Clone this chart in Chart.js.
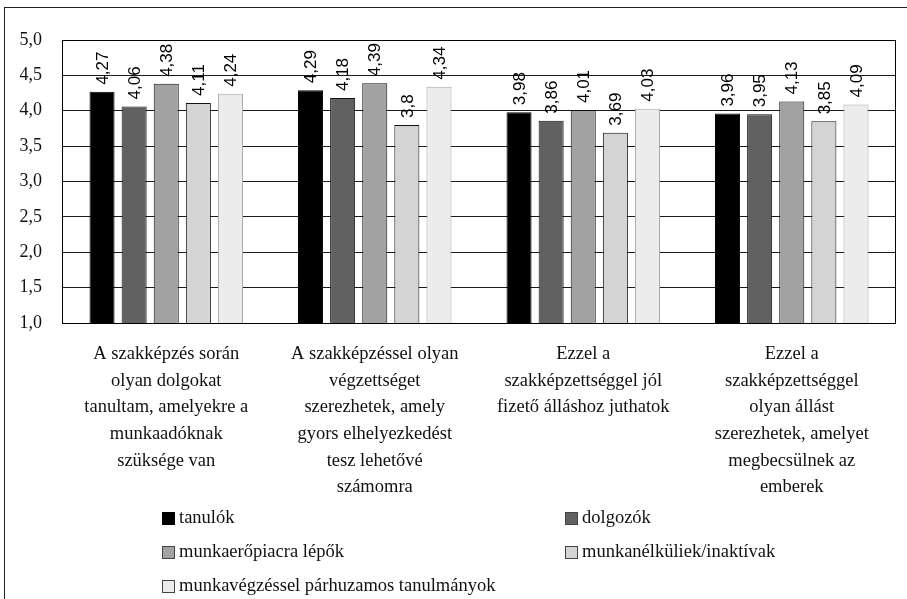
<!DOCTYPE html>
<html>
<head>
<meta charset="utf-8">
<script src="https://cdn.jsdelivr.net/npm/chart.js@4.4.1/dist/chart.umd.min.js"></script>
<style>
  html, body { margin: 0; padding: 0; background: #fff; overflow: hidden; }
  #keret { position: absolute; left: 0; top: 0; width: 907px; height: 599px; }
  #szegely { position: absolute; left: 4px; top: 7px; width: 920px; height: 620px;
    border-left: 1px solid #222; border-top: 1px solid #222; pointer-events: none; }
</style>
</head>
<body>
<div id="keret"><canvas id="grafikon"></canvas></div>
<div id="szegely"></div>
<script>
// kategóriák (többsoros feliratok)
const kategoriak = [
  ["A szakképzés során", "olyan dolgokat", "tanultam, amelyekre a", "munkaadóknak", "szüksége van"],
  ["A szakképzéssel olyan", "végzettséget", "szerezhetek, amely", "gyors elhelyezkedést", "tesz lehetővé", "számomra"],
  ["Ezzel a", "szakképzettséggel jól", "fizető álláshoz juthatok"],
  ["Ezzel a", "szakképzettséggel", "olyan állást", "szerezhetek, amelyet", "megbecsülnek az", "emberek"]
];

const csoportok = ["tanulók", "dolgozók", "munkaerőpiacra lépők", "munkanélküliek/inaktívak", "munkavégzéssel párhuzamos tanulmányok"];

const tanulok = [4.27, 4.29, 3.98, 3.96];
const dolgozok = [4.06, 4.18, 3.86, 3.95];
const munkaeropiacraLepok = [4.38, 4.39, 4.01, 4.13];
const munkanelkuliek = [4.11, 3.8, 3.69, 3.85];
const parhuzamosTanulmanyok = [4.24, 4.34, 4.03, 4.09];

const yMin = 1.0;
const yMax = 5.0;
const yLepes = 0.5;

const szinek = ["#000000", "#616161", "#a2a2a2", "#d4d4d4", "#ececec"];
const keretSzinek = ["#000000", "#111111", "#111111", "#111111", "#a8a8a8"];

const sorozatok = [tanulok, dolgozok, munkaeropiacraLepok, munkanelkuliek, parhuzamosTanulmanyok];

const serifBetu = "'Liberation Serif', 'Times New Roman', serif";
const vesszos = v => String(v).replace(".", ",");

// rotált értékfeliratok az oszlopok fölött
const ertekFeliratok = {
  id: "ertekFeliratok",
  afterDatasetsDraw(chart) {
    const ctx = chart.ctx;
    ctx.save();
    ctx.font = "17px 'Liberation Sans', Arial, sans-serif";
    ctx.fillStyle = "#000";
    ctx.textAlign = "left";
    ctx.textBaseline = "middle";
    chart.data.datasets.forEach((ds, i) => {
      const meta = chart.getDatasetMeta(i);
      meta.data.forEach((elem, j) => {
        ctx.save();
        ctx.translate(elem.x + 1, elem.y - 7);
        ctx.rotate(-Math.PI / 2);
        ctx.fillText(vesszos(ds.data[j]), 0, 0);
        ctx.restore();
      });
    });
    ctx.restore();
  }
};

// a rajzterület kerete
const teruletKeret = {
  id: "teruletKeret",
  afterDatasetsDraw(chart) {
    const { ctx, chartArea } = chart;
    ctx.save();
    ctx.strokeStyle = "#000";
    ctx.lineWidth = 1;
    ctx.strokeRect(Math.round(chartArea.left) + 0.5, Math.round(chartArea.top) + 0.5,
      Math.round(chartArea.right - chartArea.left) - 1, Math.round(chartArea.bottom - chartArea.top));
    ctx.restore();
  }
};

// jelmagyarázat két oszlopban
const jelmagyarazat = {
  id: "jelmagyarazat",
  afterDraw(chart) {
    const ctx = chart.ctx;
    const oszlopX = [162, 565];
    const sorY = [518, 552, 586];
    ctx.save();
    ctx.font = "18.5px " + serifBetu;
    ctx.textBaseline = "middle";
    ctx.textAlign = "left";
    chart.data.datasets.forEach((ds, i) => {
      const x = oszlopX[i % 2];
      const y = sorY[Math.floor(i / 2)];
      ctx.fillStyle = ds.backgroundColor;
      ctx.fillRect(x, y - 6, 13, 13);
      ctx.strokeStyle = i === 0 ? "#000" : "#444";
      ctx.lineWidth = 1;
      ctx.strokeRect(x + 0.5, y - 5.5, 12, 12);
      ctx.fillStyle = "#111";
      ctx.fillText(ds.label, x + 17, y);
    });
    ctx.restore();
  }
};

const adatkeszletek = csoportok.map((nev, i) => ({
  label: nev,
  data: sorozatok[i],
  backgroundColor: szinek[i],
  borderColor: keretSzinek[i],
  borderWidth: 1,
  categoryPercentage: 0.77,
  barPercentage: 0.78
}));

new Chart(document.getElementById("grafikon").getContext("2d"), {
  type: "bar",
  data: {
    labels: kategoriak,
    datasets: adatkeszletek
  },
  options: {
    responsive: true,
    maintainAspectRatio: false,
    animation: false,
    layout: {
      padding: { left: 0, right: 11, top: 40, bottom: 0 }
    },
    plugins: {
      legend: { display: false },
      tooltip: { enabled: false }
    },
    scales: {
      x: {
        grid: { display: false, drawTicks: false },
        border: { display: false },
        ticks: {
          autoSkip: false,
          maxRotation: 0,
          padding: 18,
          color: "#111",
          font: { family: serifBetu, size: 18.5, lineHeight: 1.44 }
        },
        afterFit(scale) { scale.height = 276; }
      },
      y: {
        min: yMin,
        max: yMax,
        grid: { color: "#1a1a1a", lineWidth: 1, drawTicks: false },
        border: { display: false },
        ticks: {
          stepSize: yLepes,
          padding: 20,
          color: "#111",
          font: { family: serifBetu, size: 18 },
          callback: v => v.toFixed(1).replace(".", ",")
        },
        afterFit(scale) { scale.width = 62; }
      }
    }
  },
  plugins: [ertekFeliratok, teruletKeret, jelmagyarazat]
});
</script>
</body>
</html>
